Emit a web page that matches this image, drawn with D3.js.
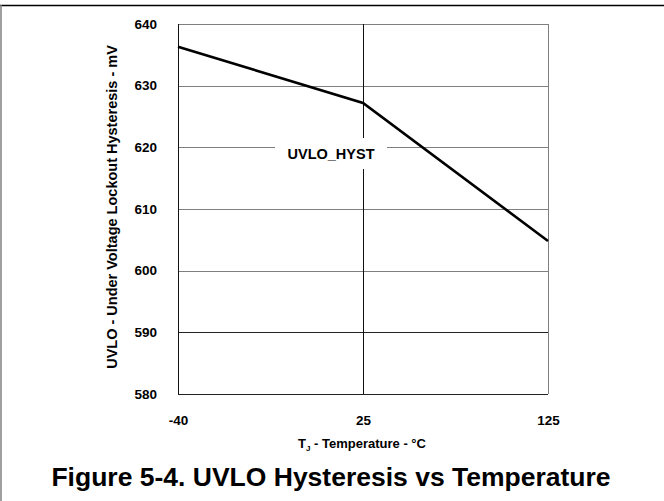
<!DOCTYPE html>
<html>
<head>
<meta charset="utf-8">
<script src="https://cdn.jsdelivr.net/npm/d3@7"></script>
<style>
  html, body { margin: 0; padding: 0; background: #fff; }
  svg { display: block; }
  text { font-family: "Liberation Sans", Arial, sans-serif; font-weight: bold; fill: #000; }
</style>
</head>
<body>
<svg id="chart" width="664" height="501"></svg>
<script>
const categories = ["-40", "25", "125"];
const hystValues = [636.3, 627.2, 604.8];
const yTicks = [580, 590, 600, 610, 620, 630, 640];
const seriesLabel = "UVLO_HYST";
const yTitle = "UVLO - Under Voltage Lockout Hysteresis - mV";
const xTitleMain = "T";
const xTitleSub = "J";
const xTitleRest = " - Temperature - °C";
const figTitle = "Figure 5-4. UVLO Hysteresis vs Temperature";

const svg = d3.select("#chart");
const W = 664, H = 501;
const m = { left: 178, right: 548, top: 24, bottom: 394 };

// figure frame (top and left edges visible)
svg.append("line").attr("x1", 0).attr("x2", W).attr("y1", 5.5).attr("y2", 5.5)
  .attr("stroke", "#000").attr("stroke-width", 1.5);
svg.append("line").attr("x1", 1).attr("x2", 1).attr("y1", 5).attr("y2", H)
  .attr("stroke", "#808080").attr("stroke-width", 1.5);

const x = d3.scalePoint().domain(categories).range([m.left, m.right]);
const y = d3.scaleLinear().domain([580, 640]).range([m.bottom, m.top]);

// horizontal gridlines
const g = svg.append("g");
g.selectAll("line.h").data(yTicks).join("line")
  .attr("class", "h")
  .attr("x1", m.left).attr("x2", m.right)
  .attr("y1", d => Math.round(y(d)) + 0.5).attr("y2", d => Math.round(y(d)) + 0.5)
  .attr("stroke", d => (d === 590 || d === 580) ? "#222" : "#7f7f7f")
  .attr("stroke-width", 1);

// vertical gridlines / frame
g.selectAll("line.v").data(categories).join("line")
  .attr("class", "v")
  .attr("x1", d => Math.round(x(d)) + 0.5).attr("x2", d => Math.round(x(d)) + 0.5)
  .attr("y1", m.top).attr("y2", m.bottom)
  .attr("stroke", (d, i) => i === categories.length - 1 ? "#7f7f7f" : "#111")
  .attr("stroke-width", 1);

// y axis tick labels
const yAxis = d3.axisLeft(y).tickValues(yTicks).tickSize(0).tickPadding(21);
const ya = svg.append("g").attr("transform", `translate(${m.left},0)`).call(yAxis);
ya.select(".domain").remove();
ya.selectAll("text").style("font-size", "13.5px").style("font-family", "'Liberation Sans', Arial, sans-serif")
  .style("font-weight", "bold").attr("fill", "#000");

// x axis tick labels
const xAxis = d3.axisBottom(x).tickSize(0).tickPadding(21);
const xa = svg.append("g").attr("transform", `translate(0,${m.bottom})`).call(xAxis);
xa.select(".domain").remove();
xa.selectAll("text").style("font-size", "13.5px").style("font-family", "'Liberation Sans', Arial, sans-serif")
  .style("font-weight", "bold").attr("fill", "#000");

// data line
const line = d3.line().x((d, i) => x(categories[i])).y(d => y(d));
svg.append("path").datum(hystValues)
  .attr("d", line).attr("fill", "none").attr("stroke", "#000")
  .attr("stroke-width", 2.6).attr("stroke-linejoin", "miter");

// series label with white background
const lx = 331, ly = 154;
svg.append("rect").attr("x", 275).attr("y", 138).attr("width", 112).attr("height", 31).attr("fill", "#fff");
svg.append("text").attr("x", lx).attr("y", ly).attr("text-anchor", "middle")
  .attr("dominant-baseline", "central").style("font-size", "14.5px").text(seriesLabel);

// y title
svg.append("text")
  .attr("transform", `translate(112,${(m.top + m.bottom) / 2 - 2}) rotate(-90)`)
  .attr("text-anchor", "middle").attr("dominant-baseline", "central")
  .style("font-size", "14.5px").text(yTitle);

// x title
const xt = svg.append("text").attr("x", (m.left + m.right) / 2 - 1).attr("y", 448)
  .attr("text-anchor", "middle").style("font-size", "13px");
xt.append("tspan").text(xTitleMain);
xt.append("tspan").attr("dy", 3).style("font-size", "8px").text(xTitleSub);
xt.append("tspan").attr("dy", -3).text(xTitleRest);

// figure title
svg.append("text").attr("x", 331).attr("y", 486).attr("text-anchor", "middle")
  .style("font-size", "26.5px").text(figTitle);
</script>
</body>
</html>
